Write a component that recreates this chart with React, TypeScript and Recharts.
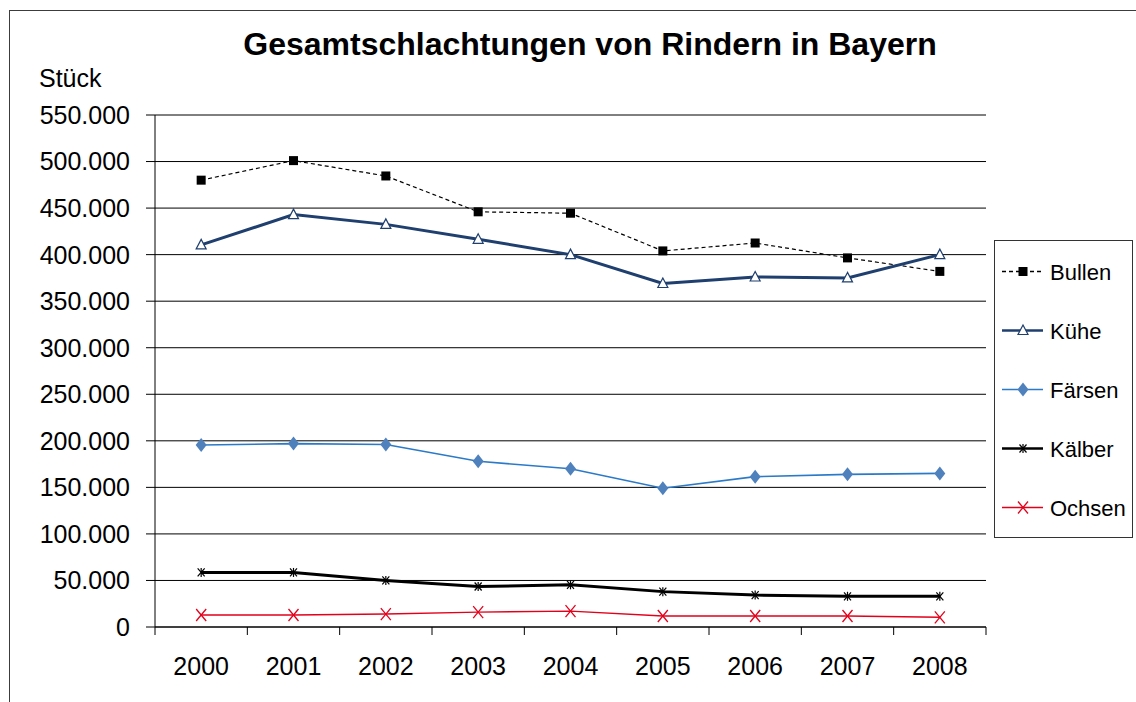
import { CartesianGrid, Line, LineChart, XAxis, YAxis } from "recharts";

const YEARS = ["2000", "2001", "2002", "2003", "2004", "2005", "2006", "2007", "2008"];
const BULLEN = [480000, 501000, 484500, 446000, 444500, 404000, 412500, 396500, 382000];
const KUEHE = [410500, 443000, 432500, 416500, 400000, 369000, 376000, 375000, 400000];
const FAERSEN = [195500, 197000, 196000, 178000, 170000, 149000, 161500, 164000, 165000];
const KAELBER = [58600, 58600, 50000, 43500, 45300, 38000, 34300, 33000, 33000];
const OCHSEN = [12900, 12900, 13900, 16000, 17000, 11800, 11800, 11800, 10400];
const Y_TICKS = [0, 50000, 100000, 150000, 200000, 250000, 300000, 350000, 400000, 450000, 500000, 550000];

const FONT = "'Liberation Sans', Arial, sans-serif";

const data = YEARS.map((year, i) => ({
  idx: i,
  year,
  bullen: BULLEN[i],
  kuehe: KUEHE[i],
  faersen: FAERSEN[i],
  kaelber: KAELBER[i],
  ochsen: OCHSEN[i],
}));

const yearTicks = YEARS.map((_, i) => i);
const boundaryTicks = [...YEARS.map((_, i) => i - 0.5), YEARS.length - 0.5];

type MarkerKind = "square" | "triangle" | "diamond" | "star" | "cross";

function Marker({ kind, cx, cy }: { kind: MarkerKind; cx: number; cy: number }) {
  if (kind === "square") return <rect x={cx - 4.5} y={cy - 4.5} width={9} height={9} fill="#000" />;
  if (kind === "triangle")
    return (
      <polygon
        points={`${cx},${cy - 5.5} ${cx - 5},${cy + 4} ${cx + 5},${cy + 4}`}
        fill="#fff"
        stroke="#1f3f6f"
        strokeWidth={1.2}
      />
    );
  if (kind === "diamond")
    return <polygon points={`${cx},${cy - 7} ${cx + 5.5},${cy} ${cx},${cy + 7} ${cx - 5.5},${cy}`} fill="#4f81bd" />;
  if (kind === "star")
    return (
      <g stroke="#000" strokeWidth={1.2}>
        <line x1={cx - 3.5} y1={cy - 4} x2={cx + 3.5} y2={cy + 4} />
        <line x1={cx - 3.5} y1={cy + 4} x2={cx + 3.5} y2={cy - 4} />
        <line x1={cx} y1={cy - 4.5} x2={cx} y2={cy + 4.5} />
      </g>
    );
  return (
    <g stroke="#e3001b" strokeWidth={1.3}>
      <line x1={cx - 5} y1={cy - 6} x2={cx + 5} y2={cy + 6} />
      <line x1={cx - 5} y1={cy + 6} x2={cx + 5} y2={cy - 6} />
    </g>
  );
}

const SERIES: { key: string; label: string; color: string; width: number; dash?: string; marker: MarkerKind }[] = [
  { key: "bullen", label: "Bullen", color: "#000", width: 1.2, dash: "4 3", marker: "square" },
  { key: "kuehe", label: "Kühe", color: "#1f3f6f", width: 3, marker: "triangle" },
  { key: "faersen", label: "Färsen", color: "#2a7ac9", width: 1.6, marker: "diamond" },
  { key: "kaelber", label: "Kälber", color: "#000", width: 3, marker: "star" },
  { key: "ochsen", label: "Ochsen", color: "#e3001b", width: 1.4, marker: "cross" },
];

const fmt = (v: number) => (v === 0 ? "0" : v.toLocaleString("de-DE"));

export default function App() {
  return (
    <div style={{ position: "absolute", left: 0, top: 0, width: 1136, height: 702, overflow: "hidden", background: "#fff" }}>
      <div
        style={{
          position: "absolute",
          left: 9,
          top: 10,
          width: 1200,
          height: 800,
          border: "1px solid #3c3c3c",
        }}
      />
      <div style={{ position: "absolute", left: 0, top: 0 }}>
        <LineChart width={1136} height={702} data={data} margin={{ top: 115, right: 150, bottom: 25, left: 0 }}>
          <CartesianGrid vertical={false} stroke="#000" strokeWidth={1} yAxisId="left" />
          <XAxis
            xAxisId="bounds"
            dataKey="idx"
            type="number"
            domain={[-0.5, YEARS.length - 0.5]}
            ticks={boundaryTicks}
            interval={0}
            height={1}
            tickSize={8}
            axisLine={{ stroke: "#000" }}
            tickLine={{ stroke: "#000" }}
            tickFormatter={() => ""}
          />
          <XAxis
            xAxisId="main"
            dataKey="idx"
            type="number"
            domain={[-0.5, YEARS.length - 0.5]}
            ticks={yearTicks}
            interval={0}
            height={49}
            tickSize={8}
            tickMargin={21}
            tickLine={false}
            axisLine={false}
            tickFormatter={(v) => YEARS[v] ?? ""}
            tick={{ fill: "#000", fontSize: 25, fontFamily: FONT }}
          />
          <YAxis
            yAxisId="left"
            width={155}
            domain={[0, 550000]}
            ticks={Y_TICKS}
            interval={0}
            tickSize={9}
            tickMargin={16}
            tickFormatter={fmt}
            axisLine={{ stroke: "#000" }}
            tickLine={{ stroke: "#000" }}
            tick={{ fill: "#000", fontSize: 25, fontFamily: FONT }}
          />
          <YAxis
            yAxisId="right"
            orientation="right"
            width={0}
            domain={[0, 550000]}
            tick={false}
            tickLine={false}
            axisLine={{ stroke: "#555" }}
          />
          {SERIES.map((s) => (
            <Line
              key={s.key}
              xAxisId="main"
              yAxisId="left"
              type="linear"
              dataKey={s.key}
              stroke={s.color}
              strokeWidth={s.width}
              strokeDasharray={s.dash}
              isAnimationActive={false}
              dot={(p: any) => <Marker key={`${s.key}-${p.index}`} kind={s.marker} cx={p.cx} cy={p.cy} />}
              activeDot={false}
            />
          ))}
        </LineChart>
      </div>
      <svg style={{ position: "absolute", left: 0, top: 0 }} width={1136} height={702}>
        <text x={590} y={55} textAnchor="middle" fontFamily={FONT} fontWeight="bold" fontSize={32} fill="#000">
          Gesamtschlachtungen von Rindern in Bayern
        </text>
        <text x={39} y={87} fontFamily={FONT} fontSize={25} fill="#000">
          Stück
        </text>
        <rect x={994.5} y={240.5} width={138} height={297} fill="#fff" stroke="#333" strokeWidth={1} />
        {SERIES.map((s, i) => {
          const cy = 271.5 + i * 59;
          return (
            <g key={s.key}>
              <line x1={1002} y1={cy} x2={1043} y2={cy} stroke={s.color} strokeWidth={s.width > 2 ? 2.5 : 1.3} strokeDasharray={s.dash} />
              <Marker kind={s.marker} cx={1023} cy={cy} />
              <text x={1050} y={cy + 8} fontFamily={FONT} fontSize={22} fill="#000">
                {s.label}
              </text>
            </g>
          );
        })}
      </svg>
    </div>
  );
}
